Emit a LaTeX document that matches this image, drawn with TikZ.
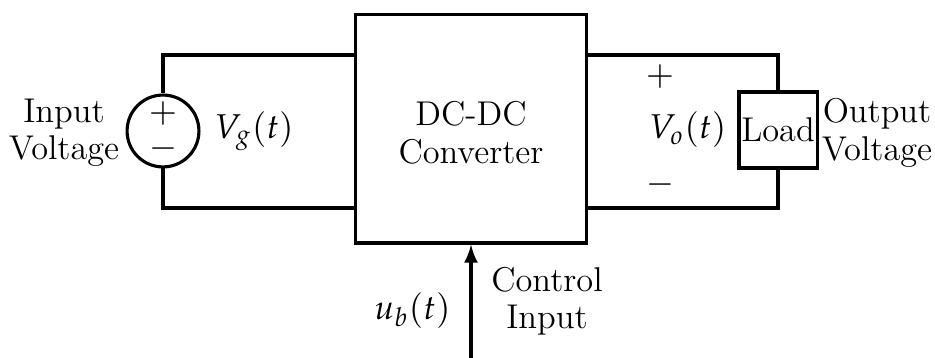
\documentclass[tikz,border=0pt]{standalone}
\usepackage{mathpazo}
\usepackage{tikz}
\usetikzlibrary{arrows}
\usetikzlibrary{calc}
\usetikzlibrary{positioning}

\begin{document}
\begin{tikzpicture}[
	x=0.32pt, y=-0.32pt,
	> = latex,
	every node/.style={font=\fontsize{11}{12}\selectfont},
	wire/.style = {line width=1pt},
	block/.style = {draw,line width=1pt,rectangle,inner sep=0pt},
	source/.style = {draw,line width=1pt,circle,inner sep=0pt,minimum size=23pt,align=center},
	sign/.style = {inner sep=0pt},
	lbl/.style = {align=center,inner sep=0pt}
	]
	\useasboundingbox (0,0) rectangle (935,358);

	\node[block, minimum width=74pt, minimum height=73pt] (conv) at (471,129) {};
	\node[lbl] (convtxt) at (471,133) {DC-DC\\Converter};
	\node[source] (src) at (163,131) {$+$\\[-1pt]$-$};
	\node[block, minimum width=25pt, minimum height=24.3pt] (load) at (778,130) {Load};

	\coordinate (@1) at (163,55);
	\coordinate (@2) at (163,208);
	\coordinate (@3) at (778,55);
	\coordinate (@4) at (778,208);
	\coordinate (@5) at (471,358);

	\draw[wire] (src.north) -- (@1) -- (conv.west |- @1);
	\draw[wire] (src.south) -- (@2) -- (conv.west |- @2);
	\draw[wire] (load.north) -- (@3) -- (conv.east |- @3);
	\draw[wire] (load.south) -- (@4) -- (conv.east |- @4);
	\draw[wire,->] (@5) -- (conv.south);

	\node[right=1pt of src] (vg) {$V_g(t)$};
	\node[lbl] (intxt) at (64,133) {Input\\Voltage};

	\node[sign] (oplus) at (660,77) {$+$};
	\node[sign] (ominus) at (660,185) {$-$};
	\node[left=0pt of load] (vo) {$V_o(t)$};
	\node[lbl] (outtxt) at (877,133) {Output\\Voltage};

	\node[left=3pt of @5, yshift=-3pt] (ub) at ($(@5)!0.5!(conv.south)$) {$u_b(t)$};
	\node[lbl] (ctrltxt) at (547,301) {Control\\Input};

\end{tikzpicture}
\end{document}
